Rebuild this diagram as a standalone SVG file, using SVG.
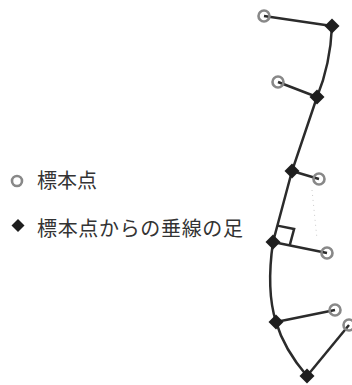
<svg xmlns="http://www.w3.org/2000/svg" width="352" height="385" viewBox="0 0 352 385">
<style>
.curve{fill:none;stroke:#2b2b2b;stroke-width:2.5}
.perp{fill:none;stroke:#2b2b2b;stroke-width:2.5}
.ring{fill:#fff;stroke:#888;stroke-width:2.6}
.foot{fill:#1e1e1e}
.lbl{font-family:"Noto Sans CJK JP","Noto Sans",sans-serif;font-size:20px;fill:#333}
</style>
<defs>
<path id="dia" d="M0,-7.5 L7.5,0 L0,7.5 L-7.5,0 Z"/>
</defs>
<rect width="352" height="385" fill="#fff"/>
<g id="connectors">
<path class="curve" d="M332,26 C331,50 326,75 317,97 L292,171 L273,242 C269,270 269,300 276,322 C282,342 295,362 307,376"/>
<line x1="312" y1="190" x2="317" y2="239" stroke="#ccc" stroke-width="1" stroke-dasharray="1 4"/>
<line class="perp" x1="332" y1="26" x2="264" y2="16"/>
<line class="perp" x1="317" y1="97" x2="278" y2="82"/>
<line class="perp" x1="292" y1="171" x2="319" y2="179"/>
<line class="perp" x1="273" y1="242" x2="327" y2="253"/>
<line class="perp" x1="276" y1="322" x2="335" y2="310"/>
<line class="perp" x1="307" y1="376" x2="349" y2="325"/>
<polyline class="perp" points="277.4,225.6 294.1,229 289.7,245.4"/>
</g>
<g id="sample1"><circle class="ring" cx="264" cy="16" r="5.5" fill-opacity="0"/></g>
<g id="sample2"><circle class="ring" cx="278" cy="82" r="5.5" fill-opacity="0"/></g>
<g id="sample3"><circle class="ring" cx="319" cy="179" r="5.5" fill-opacity="0"/></g>
<g id="sample4"><circle class="ring" cx="327" cy="253" r="5.5" fill-opacity="0"/></g>
<g id="sample5"><circle class="ring" cx="335" cy="310" r="5.5" fill-opacity="0"/></g>
<g id="sample6"><circle class="ring" cx="349" cy="325" r="5.5" fill-opacity="0"/></g>
<g id="foot1"><use href="#dia" class="foot" x="332" y="26"/></g>
<g id="foot2"><use href="#dia" class="foot" x="317" y="97"/></g>
<g id="foot3"><use href="#dia" class="foot" x="292" y="171"/></g>
<g id="foot4"><use href="#dia" class="foot" x="273" y="242"/></g>
<g id="foot5"><use href="#dia" class="foot" x="276" y="322"/></g>
<g id="foot6"><use href="#dia" class="foot" x="307" y="376"/></g>
<g id="legend-sample">
<circle cx="17" cy="181" r="5" fill="#fff" stroke="#888" stroke-width="2.6"/>
<text class="lbl" x="37" y="188">標本点</text>
</g>
<g id="legend-foot">
<path d="M18,219 L24.5,225.5 L18,232 L11.5,225.5 Z" fill="#1e1e1e"/>
<text class="lbl" x="37" y="236" textLength="206">標本点からの垂線の足</text>
</g>
</svg>
